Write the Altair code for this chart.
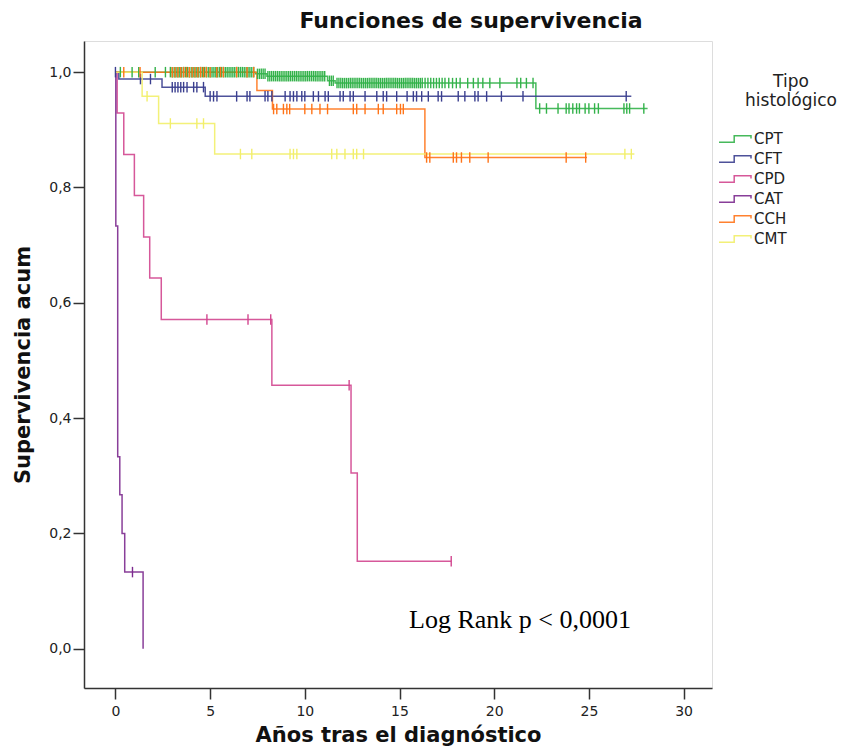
import altair as alt
import pandas as pd

groups = ["CPT", "CFT", "CPD", "CAT", "CCH", "CMT"]
colors = ["#33b24a", "#3b3f8f", "#d2468f", "#7c2a8e", "#ff7419", "#f2ef6a"]

# Kaplan-Meier step curves: step times and survival after each step (last = end of follow-up)
cpt_t = [0, 7.4, 8.0, 11.2, 11.6, 22.2, 28.1]
cpt_s = [1.0, 0.997, 0.993, 0.985, 0.981, 0.937, 0.937]
cft_t = [0, 0.18, 2.46, 4.74, 27.24]
cft_s = [1.0, 0.988, 0.974, 0.958, 0.958]
cpd_t = [0, 0.09, 0.44, 1.0, 1.49, 1.81, 2.42, 8.26, 12.44, 12.77, 17.73]
cpd_s = [1.0, 0.929, 0.857, 0.786, 0.714, 0.643, 0.571, 0.457, 0.305, 0.152, 0.152]
cat_t = [0, 0.02, 0.12, 0.23, 0.35, 0.49, 1.46]
cat_s = [1.0, 0.733, 0.333, 0.267, 0.2, 0.133, 0.0]
cch_t = [0, 7.47, 8.29, 16.34, 24.9]
cch_s = [1.0, 0.968, 0.936, 0.852, 0.852]
cmt_t = [0, 1.41, 2.28, 5.24, 27.4]
cmt_s = [1.0, 0.958, 0.911, 0.858, 0.858]

# censored observations (years)
cpt_c = [0.26, 0.88, 1.23, 2.1, 2.64,
         2.9, 3.0, 3.1, 3.2, 3.3, 3.4, 3.5, 3.6, 3.7, 3.8, 3.9, 4.0, 4.1, 4.2, 4.3, 4.4, 4.5,
         4.6, 4.7, 4.8, 4.9, 5.0, 5.1, 5.2, 5.3, 5.4, 5.5, 5.6, 5.7, 5.8, 5.9, 6.0, 6.1, 6.2,
         6.3, 6.4, 6.5, 6.6, 6.7, 6.8, 6.9, 7.0, 7.1, 7.2, 7.3,
         7.5, 7.6, 7.7, 7.8, 7.9, 8.05, 8.15, 8.25, 8.35, 8.45, 8.55, 8.65, 8.75, 8.85, 8.95,
         9.05, 9.15, 9.25, 9.35, 9.45, 9.55, 9.65, 9.75, 9.85, 9.95, 10.05, 10.15, 10.25, 10.35,
         10.45, 10.55, 10.65, 10.75, 10.85, 10.95, 11.05,
         11.3, 11.4, 11.5, 11.7, 11.8, 11.9, 12.0, 12.1, 12.2, 12.3, 12.4, 12.5, 12.6, 12.7,
         12.8, 12.9, 13.0, 13.1, 13.2, 13.3, 13.4, 13.5, 13.6, 13.7, 13.8, 13.9, 14.0, 14.1,
         14.2, 14.3, 14.4, 14.5, 14.6, 14.7, 14.8, 14.9, 15.0, 15.1, 15.2, 15.3, 15.4, 15.5,
         15.6, 15.7, 15.8, 15.9, 16.0, 16.1, 16.2, 16.35, 16.5, 16.65, 16.8, 16.95, 17.1, 17.25,
         17.4, 17.6, 17.8, 18.0, 18.2,
         18.6, 18.9, 19.15, 19.4, 19.77, 20.3, 21.2, 21.4, 21.7, 22.05,
         22.4, 22.76, 23.37, 23.8, 23.95, 24.15, 24.35, 24.5, 24.8, 25.0, 25.3, 25.5,
         26.85, 27.0, 27.15, 27.9]
cft_c = [0.0, 1.32, 1.85, 3.0, 3.15, 3.3, 3.45, 3.6, 3.78, 4.13, 4.3, 4.65, 5.0, 5.18, 5.36,
         6.4, 6.95, 7.1, 7.9, 8.05, 8.26, 8.96, 9.22, 9.4, 9.58, 9.84, 10.0, 10.45, 10.72, 11.07,
         11.24, 11.86, 12.03, 12.39, 12.56, 13.18, 13.8, 14.14, 14.32, 14.85, 15.4, 15.73, 15.9,
         16.17, 16.52, 17.04, 17.22, 18.1, 18.45, 18.98, 19.15, 19.6, 20.38, 21.52, 26.97]
cpd_c = [4.83, 7.0, 8.2, 12.34, 17.73]
cat_c = [0.9]
cch_c = [0.44, 1.3, 3.0, 3.15, 3.3, 3.45, 3.6, 3.75, 3.9, 4.05, 4.2, 4.35, 4.5, 4.65, 4.8, 5.0,
         5.35, 5.55, 5.7, 6.4, 6.95, 7.3,
         8.35, 8.52, 8.87, 9.05, 9.2, 10.0, 10.37, 10.8, 11.2, 12.56, 12.74, 13.18, 13.88, 14.14,
         14.85, 15.05, 15.2,
         16.43, 16.6, 17.84, 18.01, 18.27, 18.71, 19.68, 23.8, 24.83]
cmt_c = [1.67, 2.9, 4.3, 4.65, 6.6, 7.2, 9.22, 9.4, 9.58, 11.42, 11.69, 12.12, 12.56, 12.74,
         13.1, 26.9, 27.24]

curves = {"CPT": (cpt_t, cpt_s, cpt_c), "CFT": (cft_t, cft_s, cft_c),
          "CPD": (cpd_t, cpd_s, cpd_c), "CAT": (cat_t, cat_s, cat_c),
          "CCH": (cch_t, cch_s, cch_c), "CMT": (cmt_t, cmt_s, cmt_c)}

line_rows, cens_rows = [], []
for g, (ts, ss, cs) in curves.items():
    for i, (t, s) in enumerate(zip(ts, ss)):
        line_rows.append({"group": g, "t": t, "s": s, "i": i})
    for c in cs:
        s_at = ss[0]
        for t, s in zip(ts, ss):
            if t <= c:
                s_at = s
        cens_rows.append({"group": g, "t": c, "s": s_at})

df_lines = pd.DataFrame(line_rows)
df_cens = pd.DataFrame(cens_rows)

font = "DejaVu Sans"
xscale = alt.Scale(domain=[-1.66, 31.5], nice=False, zero=False)
yscale = alt.Scale(domain=[-0.068, 1.054], nice=False, zero=False)
cscale = alt.Scale(domain=groups, range=colors)

xaxis = alt.Axis(values=[0, 5, 10, 15, 20, 25, 30], title="Años tras el diagnóstico",
                 grid=False, tickSize=11, tickWidth=1.5, tickColor="#333",
                 domainColor="#333", domainWidth=1.5, labelFont=font, labelFontSize=14,
                 labelColor="#222", labelPadding=5, titleFont=font, titleFontSize=21,
                 titleFontWeight="bold", titleColor="#111", titlePadding=6)
yaxis = alt.Axis(values=[0, 0.2, 0.4, 0.6, 0.8, 1.0], title="Supervivencia acum",
                 labelExpr="replace(format(datum.value, '.1f'), '.', ',')",
                 grid=False, tickSize=11, tickWidth=1.5, tickColor="#333",
                 domainColor="#333", domainWidth=1.5, labelFont=font, labelFontSize=14,
                 labelColor="#222", labelPadding=2, titleFont=font, titleFontSize=21,
                 titleFontWeight="bold", titleColor="#111", titlePadding=15)

lines = alt.Chart(df_lines).mark_line(interpolate="step-after", strokeWidth=1.5, opacity=0.9).encode(
    x=alt.X("t:Q", scale=xscale, axis=xaxis),
    y=alt.Y("s:Q", scale=yscale, axis=yaxis),
    color=alt.Color("group:N", scale=cscale, legend=alt.Legend(
        title=None, orient="none", legendX=634, legendY=89,
        symbolType="M-1,0.4H0.9V-0.4H3V-0.05", symbolSize=256, symbolStrokeWidth=1.5,
        symbolFillColor="transparent", labelFont=font, labelFontSize=15, labelColor="#222",
        labelOffset=18, rowPadding=3, padding=0)),
    order=alt.Order("i:Q"),
)

cens = alt.Chart(df_cens).mark_point(shape="M0,-1L0,1", size=110, filled=False,
                                     strokeWidth=1.4, opacity=1).encode(
    x=alt.X("t:Q", scale=xscale),
    y=alt.Y("s:Q", scale=yscale),
    color=alt.Color("group:N", scale=cscale, legend=None),
)

note = alt.Chart(pd.DataFrame({"txt": ["Log Rank p < 0,0001"]})).mark_text(
    font="Liberation Serif", fontSize=26, align="center", baseline="middle", color="#000"
).encode(x=alt.value(436), y=alt.value(579), text="txt:N")

legtitle = alt.Chart(pd.DataFrame({"a": [0]})).mark_text(
    font=font, fontSize=17, align="center", baseline="middle", color="#222", lineHeight=19
).encode(x=alt.value(707), y=alt.value(41), text=alt.value(["Tipo", "histológico"]))

chart = alt.layer(lines, cens, note, legtitle).resolve_legend(color="independent").properties(
    width=628, height=647,
    autosize="none",
    padding={"left": 76, "top": 33, "right": 136, "bottom": 60},
    title=alt.TitleParams("Funciones de supervivencia", font=font, fontSize=22,
                          fontWeight="bold", color="#111", anchor="middle", dx=73, offset=8),
).configure_view(stroke="#666", strokeWidth=1.5).configure(background="white")

chart.save("out.html", embed_options={"renderer": "svg", "actions": False})
